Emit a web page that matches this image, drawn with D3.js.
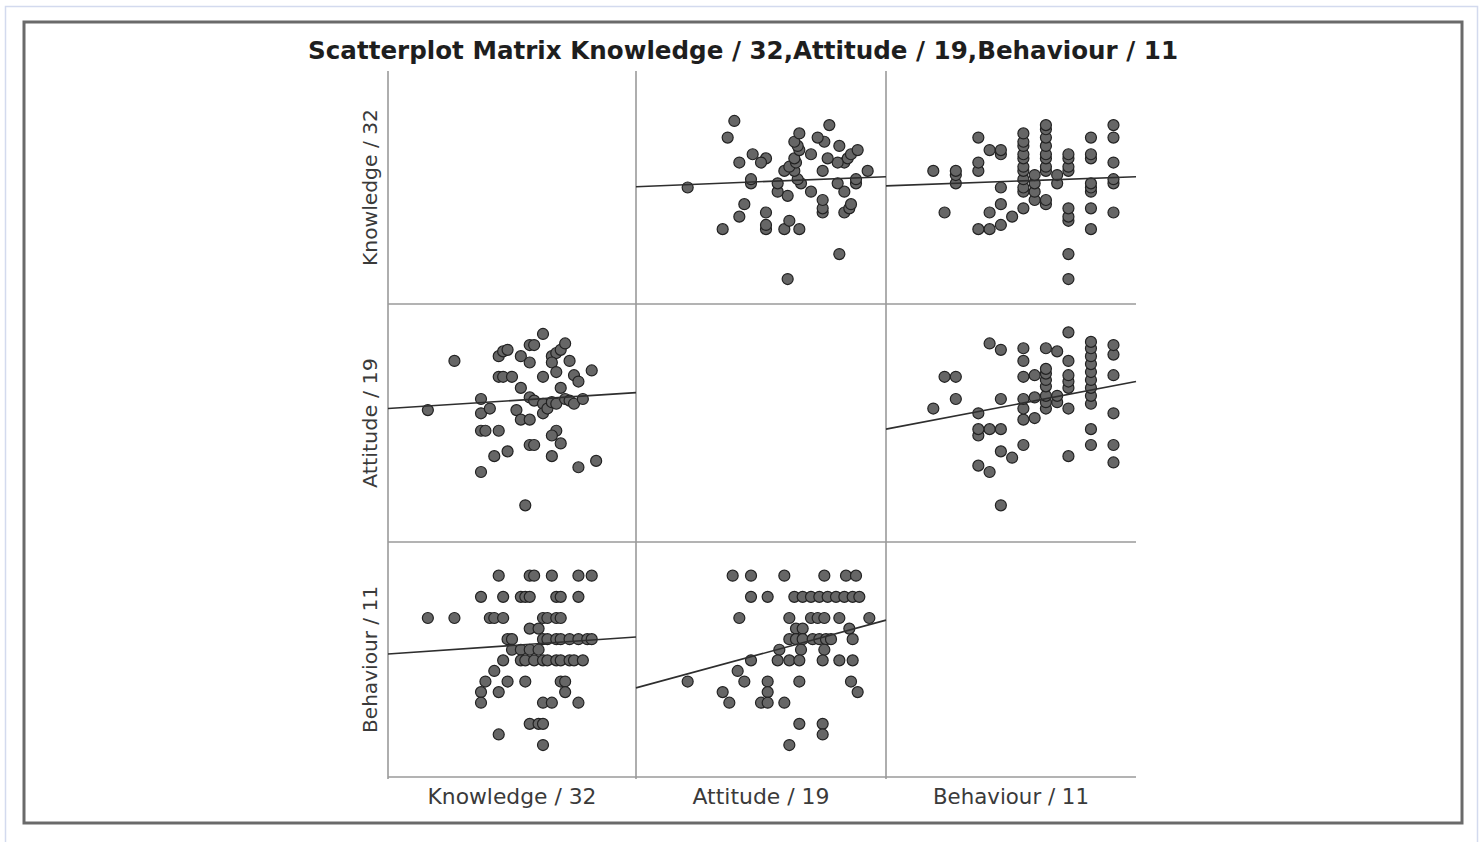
<!DOCTYPE html>
<html>
<head>
<meta charset="utf-8">
<script src="https://cdn.jsdelivr.net/npm/d3@7"></script>
<style>
  body { margin: 0; background: #fff; }
  svg { display: block; }
</style>
</head>
<body>
<div id="chart"></div>
<script>
// ---------------- data ----------------
const variables = ["Knowledge / 32", "Attitude / 19", "Behaviour / 11"];
const titleText = "Scatterplot Matrix Knowledge / 32,Attitude / 19,Behaviour / 11";

// axis ranges of each variable
const knowledgeDomain = [8, 36];
const attitudeDomain = [5, 20];
const behaviourDomain = [0.9, 12];

// [knowledge, attitude]
const knowledgeAttitude = [
  [12.5, 14.1], [15.5, 17.2], [18.5, 14.8], [18.5, 13.9], [19.5, 14.2], [18.5, 12.8],
  [19, 12.8], [20.5, 12.8], [18.5, 10.2], [20, 11.2], [21.5, 11.5], [20.5, 17.5],
  [21, 17.8], [21.5, 17.9], [20.5, 16.2], [21, 16.2], [22, 16.2], [23, 15.5],
  [23, 17.5], [24, 18.2], [24.5, 18.2], [24, 17.1], [25.5, 18.9], [26.5, 17.5],
  [27, 17.7], [27.5, 17.9], [28, 18.3], [28.5, 17.2], [26.5, 17.1], [25.5, 16.2],
  [27, 16.5], [27.5, 15.5], [29, 16.3], [29.5, 15.9], [31, 16.6], [22.5, 14.1],
  [23, 13.5], [24, 14.9], [24, 13.5], [24.5, 14.7], [25.5, 14.5], [25.5, 13.9],
  [26, 14.2], [26.5, 14.6], [27, 14.5], [28, 14.8], [28.5, 14.7], [29, 14.5],
  [30, 14.8], [24, 11.9], [24.5, 11.9], [27, 12.8], [26.5, 12.5], [27.5, 12],
  [26.5, 11.2], [29.5, 10.5], [31.5, 10.9], [23.5, 8.1]
];

// [knowledge, behaviour]
const knowledgeBehaviour = [
  [20.5, 11], [24, 11], [24.5, 11], [26.5, 11], [29.5, 11], [31, 11],
  [18.5, 10], [21, 10], [23, 10], [23.5, 10], [24, 10], [27, 10], [27.5, 10], [29.5, 10],
  [12.5, 9], [15.5, 9], [19.5, 9], [20, 9], [21, 9], [25.5, 9], [26, 9], [27, 9], [27.5, 9],
  [24, 8.5], [25, 8.5],
  [21.5, 8], [22, 8], [25.5, 8], [26, 8], [27, 8], [27.5, 8], [28.5, 8], [29.5, 8], [30.5, 8], [31, 8],
  [22, 7.5], [23, 7.5], [24, 7.5], [25, 7.5],
  [21, 7], [23, 7], [23.5, 7], [24.5, 7], [25.5, 7], [26, 7], [27, 7], [27.5, 7], [28.5, 7], [29, 7], [30, 7],
  [20, 6.5],
  [19, 6], [21.5, 6], [23.5, 6], [27.5, 6], [28, 6],
  [18.5, 5.5], [20.5, 5.5], [28, 5.5],
  [18.5, 5], [25.5, 5], [26.5, 5], [29.5, 5],
  [24, 4], [25, 4], [25.5, 4],
  [20.5, 3.5],
  [25.5, 3]
];

// [attitude, behaviour]
const attitudeBehaviour = [
  [10.8, 11], [11.9, 11], [13.9, 11], [16.3, 11], [17.6, 11], [18.2, 11],
  [11.9, 10], [12.9, 10], [14.5, 10], [15, 10], [15.5, 10], [16, 10], [16.5, 10], [17, 10], [17.5, 10], [18, 10], [18.4, 10],
  [11.2, 9], [14.2, 9], [15.5, 9], [15.9, 9], [16.3, 9], [17.2, 9], [19, 9],
  [14.6, 8.5], [15, 8.5], [17.8, 8.5],
  [14.2, 8], [14.6, 8], [15, 8], [15.6, 8], [16, 8], [16.4, 8], [16.7, 8], [18, 8],
  [13.6, 7.5], [14.9, 7.5], [16.3, 7.5],
  [11.9, 7], [13.5, 7], [14.2, 7], [14.8, 7], [16.2, 7], [17.2, 7], [18, 7],
  [11.1, 6.5],
  [8.1, 6], [11.5, 6], [12.9, 6], [14.8, 6], [17.9, 6],
  [10.2, 5.5], [12.9, 5.5], [18.3, 5.5],
  [10.6, 5], [12.5, 5], [12.9, 5], [13.9, 5],
  [14.8, 4], [16.2, 4],
  [16.2, 3.5],
  [14.2, 3]
];

// fitted lines: value of the row variable at the left and right edge of the cell
const fitLines = [
  { row: 0, col: 1, ends: [23.6, 24.8] },
  { row: 0, col: 2, ends: [23.7, 24.8] },
  { row: 1, col: 0, ends: [14.2, 15.2] },
  { row: 1, col: 2, ends: [12.9, 15.9] },
  { row: 2, col: 0, ends: [7.3, 8.1] },
  { row: 2, col: 1, ends: [5.7, 8.9] }
];

// ---------------- layout ----------------
const width = 1483, height = 842;
const colEdges = [388, 636, 886, 1136];
const rowEdges = [71, 304, 542, 777];
const shift = 12.5; // points sit a little lower than the cell frame
const xLabelWidths = [169, 137, 156];
const yLabelWidths = [157, 130, 147];

const svg = d3.select("#chart").append("svg")
  .attr("width", width)
  .attr("height", height);

// picture frames
svg.append("rect")
  .attr("x", 5.5).attr("y", 6.5)
  .attr("width", 1472).attr("height", 850)
  .attr("fill", "none")
  .attr("stroke", "#d3daee")
  .attr("stroke-width", 1.5);

svg.append("rect")
  .attr("x", 24).attr("y", 22)
  .attr("width", 1438).attr("height", 801)
  .attr("fill", "#fff")
  .attr("stroke", "#6a6a6a")
  .attr("stroke-width", 3);

const domains = [knowledgeDomain, attitudeDomain, behaviourDomain];
const xScales = domains.map((d, i) => d3.scaleLinear().domain(d).range([colEdges[i], colEdges[i + 1]]));
const yScales = domains.map((d, i) => d3.scaleLinear().domain(d).range([rowEdges[i + 1] + shift, rowEdges[i] + shift]));

const pairs = { "0-1": knowledgeAttitude, "0-2": knowledgeBehaviour, "1-2": attitudeBehaviour };

function panelPoints(row, col) {
  const a = Math.min(row, col), b = Math.max(row, col);
  return pairs[a + "-" + b].map(p => {
    const byVar = {};
    byVar[a] = p[0];
    byVar[b] = p[1];
    return { x: byVar[col], y: byVar[row] };
  });
}

// cell frames: left line of every column, bottom line of every row
const grid = svg.append("g").attr("stroke", "#9a9a9a").attr("stroke-width", 1.6);
colEdges.slice(0, 3).forEach(x => {
  grid.append("line")
    .attr("x1", x).attr("x2", x)
    .attr("y1", rowEdges[0]).attr("y2", rowEdges[3] + 2);
});
rowEdges.slice(1).forEach(y => {
  grid.append("line")
    .attr("x1", colEdges[0]).attr("x2", colEdges[3])
    .attr("y1", y).attr("y2", y);
});

// points
for (let r = 0; r < 3; r++) {
  for (let c = 0; c < 3; c++) {
    if (r === c) continue;
    svg.append("g")
      .selectAll("circle")
      .data(panelPoints(r, c))
      .join("circle")
      .attr("cx", d => xScales[c](d.x))
      .attr("cy", d => yScales[r](d.y))
      .attr("r", 5.5)
      .attr("fill", "#666")
      .attr("stroke", "#222")
      .attr("stroke-width", 1.2);
  }
}

// fit lines
fitLines.forEach(f => {
  const xd = domains[f.col];
  svg.append("line")
    .attr("x1", xScales[f.col](xd[0]))
    .attr("x2", xScales[f.col](xd[1]))
    .attr("y1", yScales[f.row](f.ends[0]))
    .attr("y2", yScales[f.row](f.ends[1]))
    .attr("stroke", "#2e2e2e")
    .attr("stroke-width", 1.6);
});

// axis labels
variables.forEach((v, i) => {
  svg.append("text")
    .attr("x", (colEdges[i] + colEdges[i + 1]) / 2)
    .attr("y", 804)
    .attr("text-anchor", "middle")
    .attr("textLength", xLabelWidths[i])
    .attr("lengthAdjust", "spacingAndGlyphs")
    .style("font-family", "DejaVu Sans")
    .style("font-size", "21px")
    .attr("fill", "#3a3a3a")
    .text(v);

  svg.append("text")
    .attr("transform", `translate(377, ${(rowEdges[i] + rowEdges[i + 1]) / 2}) rotate(-90)`)
    .attr("text-anchor", "middle")
    .attr("textLength", yLabelWidths[i])
    .attr("lengthAdjust", "spacingAndGlyphs")
    .style("font-family", "DejaVu Sans")
    .style("font-size", "20px")
    .attr("fill", "#3a3a3a")
    .text(v);
});

// title
svg.append("text")
  .attr("x", 743)
  .attr("y", 59)
  .attr("text-anchor", "middle")
  .attr("textLength", 870)
  .attr("lengthAdjust", "spacingAndGlyphs")
  .style("font-family", "DejaVu Sans")
  .style("font-weight", "bold")
  .style("font-size", "25px")
  .attr("fill", "#1e1e1e")
  .text(titleText);
</script>
</body>
</html>
